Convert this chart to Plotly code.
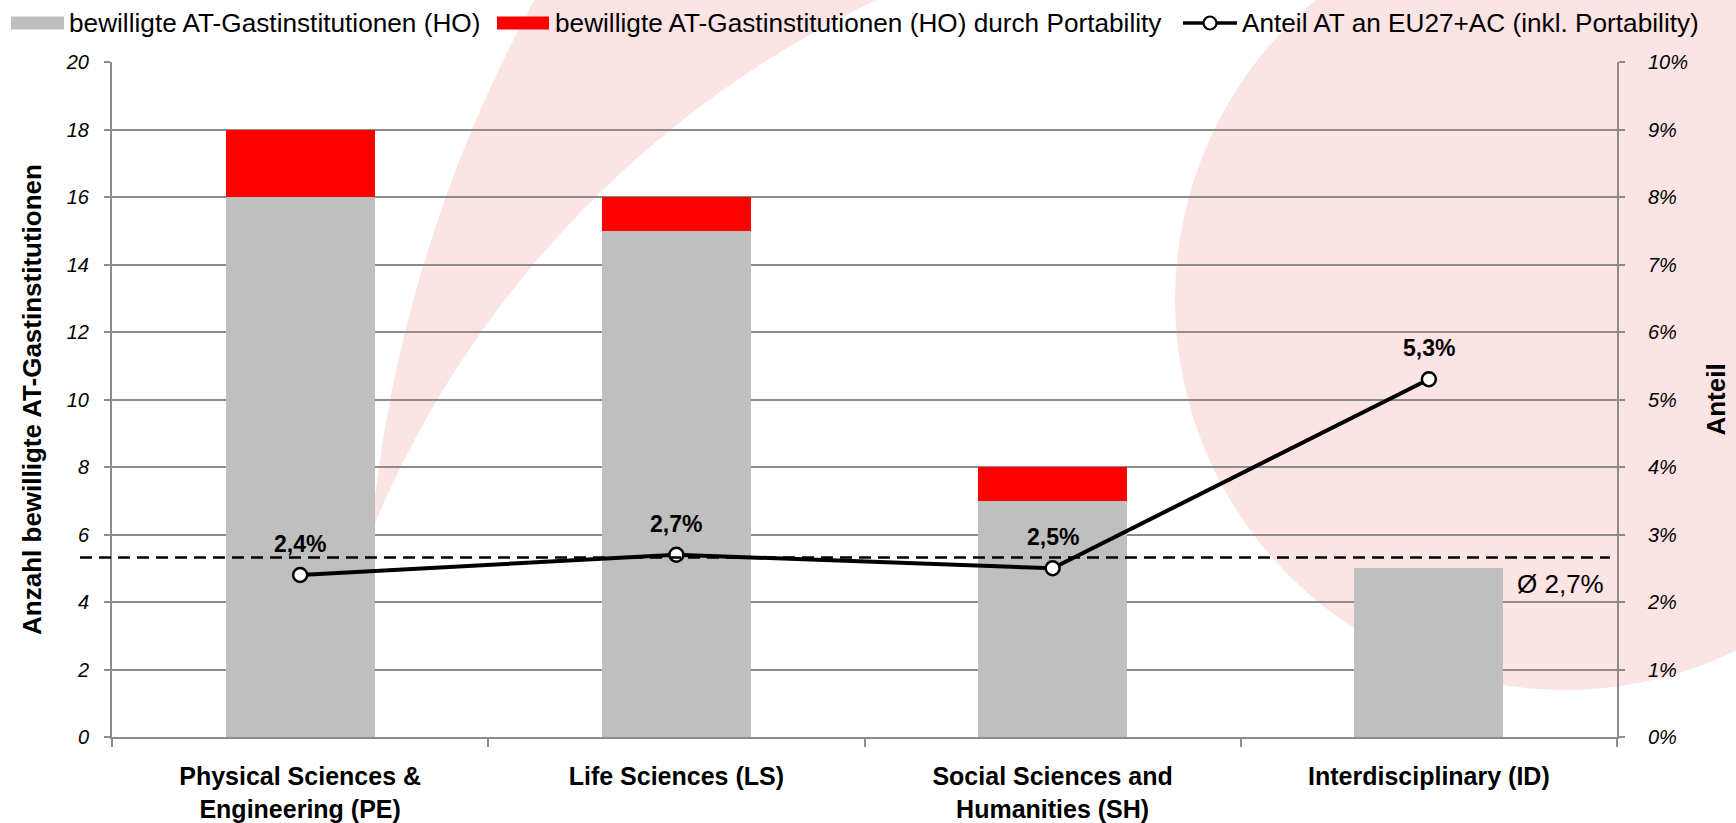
import numpy as np
import plotly.graph_objects as go

# ---------------- data ----------------
categories = [
    "Physical Sciences &<br>Engineering (PE)",
    "Life Sciences (LS)",
    "Social Sciences and<br>Humanities (SH)",
    "Interdisciplinary (ID)",
]
ho_values = [16, 15, 7, 5]                 # bewilligte AT-Gastinstitutionen (HO)
portability_values = [2, 1, 1, 0]          # ... durch Portability
share_values = [2.4, 2.7, 2.5, 5.3]        # Anteil AT an EU27+AC (%)
average_share = 2.66                       # Ø 2,7%
left_ticks = [0, 2, 4, 6, 8, 10, 12, 14, 16, 18, 20]
right_ticks = [0, 1, 2, 3, 4, 5, 6, 7, 8, 9, 10]
legend_labels = [
    "bewilligte AT-Gastinstitutionen (HO)",
    "bewilligte AT-Gastinstitutionen (HO) durch Portability",
    "Anteil AT an EU27+AC (inkl. Portability)",
]
left_title = "Anzahl bewilligte AT-Gastinstitutionen"
right_title = "Anteil"


def de_pct(v):
    return f"{v:.1f}".replace(".", ",") + "%"


# ---------------- geometry (pixels) ----------------
W, H = 1736, 823
L, R, T, B = 112, 1617, 62, 737
FONT = "Arial, Liberation Sans, sans-serif"
GREY = "#8c8c8c"
PINK = "#fce4e4"


def px(x):
    return (x - L) / (R - L)


def py(y):
    return (B - y) / (B - T)


fig = go.Figure()
fig.add_bar(x=categories, y=ho_values, name=legend_labels[0],
            marker=dict(color="#bfbfbf", line=dict(width=0)), showlegend=False)
fig.add_bar(x=categories, y=portability_values, name=legend_labels[1],
            marker=dict(color="#ff0000", line=dict(width=0)), showlegend=False)
fig.add_scatter(x=categories, y=share_values, yaxis="y2", name=legend_labels[2],
                mode="lines+markers", showlegend=False,
                line=dict(color="black", width=4),
                marker=dict(size=14, color="white", line=dict(color="black", width=2.5)))

shapes = []

# background decoration: large circle on the right
cx, cy, rr = 1565, 300, 390
shapes.append(dict(type="circle", xref="paper", yref="paper", layer="below",
                   x0=px(cx - rr), x1=px(cx + rr), y0=py(cy + rr), y1=py(cy - rr),
                   fillcolor=PINK, line=dict(width=0)))

# background decoration: crescent band
c1 = np.array([1743.0, 662.0]); r1 = 1378.0
c2 = np.array([1310.0, 918.0]); r2 = 1015.0
d = np.linalg.norm(c2 - c1)
a = (r1 ** 2 - r2 ** 2 + d ** 2) / (2 * d)
h = np.sqrt(r1 ** 2 - a ** 2)
p = c1 + a * (c2 - c1) / d
perp = np.array([(c2 - c1)[1], -(c2 - c1)[0]]) / d
cands = [p + h * perp, p - h * perp]
tip = min(cands, key=lambda q: q[1])
ys_out = np.linspace(-30, tip[1], 80)
xs_out = c1[0] - np.sqrt(r1 ** 2 - (ys_out - c1[1]) ** 2)
ys_in = np.linspace(tip[1], -30, 80)
xs_in = c2[0] - np.sqrt(r2 ** 2 - (ys_in - c2[1]) ** 2)
pts = list(zip(xs_out, ys_out)) + list(zip(xs_in, ys_in))
path = "M " + " L ".join(f"{px(x):.5f},{py(y):.5f}" for x, y in pts) + " Z"
shapes.append(dict(type="path", xref="paper", yref="paper", layer="below",
                   path=path, fillcolor=PINK, line=dict(width=0)))

# average dashed line
shapes.append(dict(type="line", xref="paper", yref="y2", layer="above",
                   x0=px(80), x1=px(1610), y0=average_share, y1=average_share,
                   line=dict(color="black", width=2.5, dash="12px,7px")))

# manual legend symbols
leg_y = 23
shapes.append(dict(type="rect", xref="paper", yref="paper",
                   x0=px(11), x1=px(64), y0=py(leg_y + 6.5), y1=py(leg_y - 6.5),
                   fillcolor="#bfbfbf", line=dict(width=0)))
shapes.append(dict(type="rect", xref="paper", yref="paper",
                   x0=px(497), x1=px(549), y0=py(leg_y + 6.5), y1=py(leg_y - 6.5),
                   fillcolor="#ff0000", line=dict(width=0)))
shapes.append(dict(type="line", xref="paper", yref="paper",
                   x0=px(1183), x1=px(1237), y0=py(leg_y), y1=py(leg_y),
                   line=dict(color="black", width=3.5)))
shapes.append(dict(type="circle", xref="paper", yref="paper",
                   x0=px(1210 - 6.5), x1=px(1210 + 6.5), y0=py(leg_y + 6.5), y1=py(leg_y - 6.5),
                   fillcolor="white", line=dict(color="black", width=2.2)))

annotations = []
for x0, txt in zip([67, 553, 1240], legend_labels):
    annotations.append(dict(x=px(x0), y=py(leg_y), xref="paper", yref="paper",
                            xanchor="left", yanchor="middle", showarrow=False,
                            text=txt, font=dict(family=FONT, size=26.2, color="black")))

# data labels
for c, v in zip(categories, share_values):
    annotations.append(dict(x=c, y=v, xref="x", yref="y2", yshift=31,
                            showarrow=False, text=de_pct(v),
                            font=dict(family=FONT, size=23, color="black", weight="bold")))

# average label
annotations.append(dict(x=px(1606), y=average_share, xref="paper", yref="y2",
                        xanchor="right", yanchor="middle", yshift=-27, showarrow=False,
                        text="Ø " + de_pct(average_share),
                        font=dict(family=FONT, size=26, color="black")))

fig.update_layout(
    width=W, height=H, autosize=False,
    margin=dict(l=L, r=W - R, t=T, b=H - B, pad=0, autoexpand=False),
    paper_bgcolor="white", plot_bgcolor="rgba(0,0,0,0)",
    barmode="stack", bargap=0.604,
    showlegend=False,
    font=dict(family=FONT, color="black"),
    shapes=shapes, annotations=annotations,
    xaxis=dict(type="category", automargin=False, showline=True, linecolor=GREY, linewidth=2,
               ticks="outside", tickson="boundaries", ticklen=8, tickcolor=GREY, tickwidth=2,
               showgrid=False, tickfont=dict(family=FONT, size=25, color="black", weight="bold"),
               ticklabelstandoff=16),
    yaxis=dict(range=[0, 20], tickvals=left_ticks, automargin=False,
               showgrid=True, gridcolor=GREY, gridwidth=1.6,
               showline=True, linecolor=GREY, linewidth=2, zeroline=False,
               ticks="outside", ticklen=6, tickcolor=GREY, tickwidth=1.6,
               tickfont=dict(family=FONT, size=20, color="black", style="italic"),
               ticklabelstandoff=11,
               title=dict(text=left_title, standoff=17,
                          font=dict(family=FONT, size=26, color="black", weight="bold"))),
    yaxis2=dict(range=[0, 10], tickvals=right_ticks, ticktext=[f"{v}%" for v in right_ticks],
                automargin=False,
                overlaying="y", side="right", showgrid=False, zeroline=False,
                showline=True, linecolor=GREY, linewidth=2,
                ticks="outside", ticklen=6, tickcolor=GREY, tickwidth=1.6,
                tickfont=dict(family=FONT, size=20, color="black", style="italic"),
                ticklabelstandoff=19,
                title=dict(text=right_title, standoff=20,
                           font=dict(family=FONT, size=26, color="black", weight="bold"))),
)

fig.write_html("out.html", config={"displayModeBar": False},
               post_script="document.body.style.margin='0';document.body.style.overflow='hidden';")
